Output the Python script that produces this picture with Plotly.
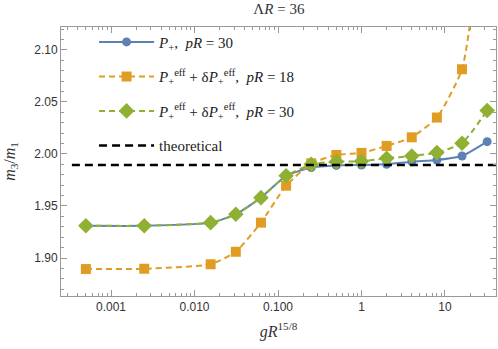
import plotly.graph_objects as go

# coupling values g R^{15/8}
g_vals = [0.0005, 0.0025, 0.0156, 0.03125, 0.0625, 0.125, 0.25, 0.5, 1, 2, 4, 8, 16, 32]

# m3/m1 for each series
p_plus_30 = [1.931, 1.931, 1.934, 1.942, 1.958, 1.979, 1.987, 1.989, 1.9894, 1.990, 1.9926, 1.9942, 1.998, 2.0118]
p_eff_18 = [1.8894, 1.8897, 1.894, 1.906, 1.934, 1.9695, 1.991, 1.999, 2.001, 2.0077, 2.016, 2.035, 2.0814, 2.26]
p_eff_30 = [1.931, 1.931, 1.934, 1.942, 1.958, 1.979, 1.990, 1.9926, 1.993, 1.9959, 1.998, 2.0013, 2.0103, 2.0417]

theory_x = [0.00034, 100]
theory_val = 1.9894

BLUE = "#5E81B5"
ORANGE = "#E19C24"
GREEN = "#8FB032"
SERIF = "Liberation Serif"

fig = go.Figure()
fig.add_trace(go.Scatter(
    x=g_vals, y=p_plus_30, mode="lines+markers", legendgroup="a",
    name="<i>P</i><sub>+</sub>,  <i>pR</i> = 30",
    line=dict(color=BLUE, width=2, shape="spline", smoothing=0.5),
    marker=dict(symbol="circle", size=9, color=BLUE),
))
fig.add_trace(go.Scatter(
    x=g_vals, y=p_eff_18, mode="lines+markers", legendgroup="b",
    name="<i>P</i><sub>+</sub><sup>eff</sup> + δ<i>P</i><sub>+</sub><sup>eff</sup>,  <i>pR</i> = 18",
    line=dict(color=ORANGE, width=2, dash="6px,4px", shape="spline", smoothing=0.5),
    marker=dict(symbol="square", size=10, color=ORANGE),
))
fig.add_trace(go.Scatter(
    x=g_vals, y=p_eff_30, mode="lines+markers", legendgroup="c",
    name="<i>P</i><sub>+</sub><sup>eff</sup> + δ<i>P</i><sub>+</sub><sup>eff</sup>,  <i>pR</i> = 30",
    line=dict(color=GREEN, width=2, dash="6px,4px", shape="spline", smoothing=0.5),
    marker=dict(symbol="diamond", size=12, color=GREEN),
))
fig.add_trace(go.Scatter(
    x=theory_x, y=[theory_val] * len(theory_x), mode="lines", legendgroup="d",
    name="theoretical",
    line=dict(color="black", width=2.5, dash="8px,5px"),
))

axis_common = dict(
    showline=True, linecolor="#999999", linewidth=1, mirror="ticks",
    ticks="inside", ticklen=6, tickcolor="#999999", showgrid=False, zeroline=False,
    automargin=False,
    tickfont=dict(family="Liberation Sans", size=12, color="#333333"),
)

fig.update_xaxes(
    type="log", range=[-3.599, 1.611],
    tickvals=[0.001, 0.01, 0.1, 1, 10],
    ticktext=["0.001", "0.010", "0.100", "1", "10"],
    minor=dict(ticks="inside", ticklen=3, tickcolor="#999999",
               tickvals=[m * 10 ** e for e in range(-4, 2) for m in range(2, 10)]),
    title=dict(text="<i>gR</i><sup>15/8</sup>", font=dict(family=SERIF, size=16, color="#333333"), standoff=12),
    **axis_common,
)
fig.update_yaxes(
    range=[1.8635, 2.122],
    tickvals=[1.90, 1.95, 2.00, 2.05, 2.10], tickformat=".2f",
    minor=dict(ticks="inside", ticklen=3, tickcolor="#999999", dtick=0.01),
    title=dict(text="<i>m</i><sub>3</sub>/<i>m</i><sub>1</sub>", font=dict(family=SERIF, size=16, color="#333333"), standoff=14),
    **axis_common,
)

fig.update_layout(
    width=498, height=349,
    margin=dict(l=61, r=2, t=27, b=53),
    paper_bgcolor="white", plot_bgcolor="white",
    title=dict(text="Λ<i>R</i> = 36", x=0.56, xanchor="center", y=0.99, yanchor="top",
               font=dict(family=SERIF, size=15, color="#333333")),
    legend=dict(x=0.076, y=1.005, xanchor="left", yanchor="top", bgcolor="rgba(0,0,0,0)",
                font=dict(family=SERIF, size=15, color="#222222"), itemwidth=55,
                tracegroupgap=12),
    showlegend=True,
)

fig.write_html("out.html", config={"displayModeBar": False},
               post_script="document.body.style.margin='0';")
